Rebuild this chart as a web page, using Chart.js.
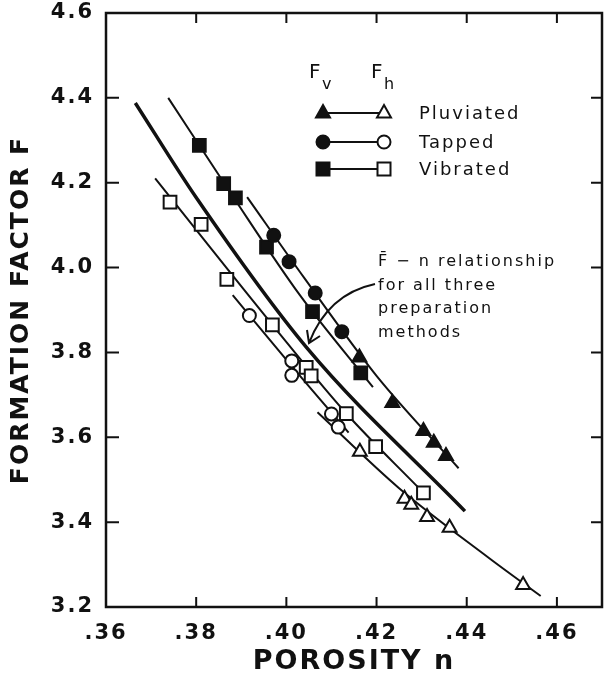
<!DOCTYPE html>
<html>
<head>
<meta charset="utf-8">
<script src="https://cdn.jsdelivr.net/npm/chart.js@4.4.1/dist/chart.umd.min.js"></script>
<style>
  html, body { margin: 0; padding: 0; background: #fff; }
  #wrap { width: 604px; height: 675px; }
</style>
</head>
<body>
<div id="wrap"><canvas id="myChart"></canvas></div>
<script>
// measured points, filled = F_v, open = F_h
const vPluvN = [0.4162, 0.4235, 0.4304, 0.4327, 0.4354];
const vPluvF = [3.788, 3.681, 3.615, 3.587, 3.556];
const vTapN = [0.3972, 0.4006, 0.4064, 0.4123];
const vTapF = [4.076, 4.014, 3.940, 3.849];
const vVibN = [0.3807, 0.3861, 0.3887, 0.3956, 0.4058, 0.4165];
const vVibF = [4.288, 4.198, 4.164, 4.048, 3.896, 3.752];

const hPluvN = [0.4163, 0.4262, 0.4277, 0.4312, 0.4362, 0.4525];
const hPluvF = [3.566, 3.455, 3.441, 3.412, 3.387, 3.252];
const hTapN = [0.3918, 0.4012, 0.4012, 0.4100, 0.4115];
const hTapF = [3.887, 3.780, 3.746, 3.655, 3.624];
const hVibN = [0.3742, 0.3811, 0.3868, 0.3969, 0.4044, 0.4055, 0.4133, 0.4198, 0.4304];
const hVibF = [4.154, 4.102, 3.972, 3.865, 3.765, 3.745, 3.656, 3.578, 3.469];

// fitted curves
const fitVibVN = [0.3738, 0.3880, 0.4030, 0.4192];
const fitVibVF = [4.400, 4.170, 3.935, 3.718];
const fitTapVN = [0.3913, 0.4040, 0.4200, 0.4382];
const fitTapVF = [4.166, 3.975, 3.745, 3.527];
const fitMeanN = [0.3665, 0.3800, 0.4046, 0.4396];
const fitMeanF = [4.388, 4.165, 3.810, 3.426];
const fitVibHN = [0.3709, 0.3969, 0.4133, 0.4296];
const fitVibHF = [4.210, 3.865, 3.656, 3.478];
const fitTapHN = [0.3881, 0.4010, 0.4138];
const fitTapHF = [3.935, 3.770, 3.611];
const fitPluvHN = [0.4069, 0.4250, 0.4450, 0.4564];
const fitPluvHF = [3.659, 3.480, 3.315, 3.226];

const legendNames = ['Pluviated', 'Tapped', 'Vibrated'];
const legendShapes = ['triangle', 'circle', 'rect'];
const noteLines = ['F\u0304 \u2212 n relationship', 'for all three', 'preparation', 'methods'];

const ink = '#111';

function pts(xs, ys) {
  return xs.map((x, i) => ({ x: x, y: ys[i] }));
}

function markers(xs, ys, shape, filled) {
  return {
    data: pts(xs, ys),
    showLine: false,
    pointStyle: shape,
    pointRadius: shape === 'rect' ? 9 : (shape === 'triangle' ? 8 : 6.5),
    pointBorderWidth: 2,
    pointBorderColor: ink,
    pointBackgroundColor: filled ? ink : '#fff',
    order: 0
  };
}

function curve(xs, ys, width) {
  return {
    data: pts(xs, ys),
    showLine: true,
    borderColor: ink,
    borderWidth: width,
    pointRadius: 0,
    cubicInterpolationMode: 'monotone',
    order: 1
  };
}

const datasets = [
  curve(fitVibVN, fitVibVF, 2),
  curve(fitTapVN, fitTapVF, 2),
  curve(fitMeanN, fitMeanF, 3.5),
  curve(fitVibHN, fitVibHF, 2),
  curve(fitTapHN, fitTapHF, 2),
  curve(fitPluvHN, fitPluvHF, 2),
  markers(vPluvN, vPluvF, 'triangle', true),
  markers(vTapN, vTapF, 'circle', true),
  markers(vVibN, vVibF, 'rect', true),
  markers(hPluvN, hPluvF, 'triangle', false),
  markers(hTapN, hTapF, 'circle', false),
  markers(hVibN, hVibF, 'rect', false)
];

function drawMark(ctx, shape, x, y, filled) {
  ctx.beginPath();
  if (shape === 'circle') {
    ctx.arc(x, y, 6.5, 0, Math.PI * 2);
  } else if (shape === 'rect') {
    ctx.rect(x - 6.5, y - 6.5, 13, 13);
  } else {
    ctx.moveTo(x, y - 8);
    ctx.lineTo(x + 7, y + 4.5);
    ctx.lineTo(x - 7, y + 4.5);
    ctx.closePath();
  }
  ctx.fillStyle = filled ? ink : '#fff';
  ctx.fill();
  ctx.lineWidth = 2;
  ctx.strokeStyle = ink;
  ctx.stroke();
}

const framePlugin = {
  id: 'frame',
  beforeDraw(chart) {
    chart.ctx.letterSpacing = '2px';
  },
  afterDraw(chart) {
    const { ctx, chartArea: a, scales } = chart;
    ctx.save();
    ctx.strokeStyle = ink;
    ctx.lineWidth = 2.5;
    ctx.strokeRect(a.left, a.top, a.right - a.left, a.bottom - a.top);
    ctx.lineWidth = 2;
    ctx.beginPath();
    scales.x.ticks.forEach(t => {
      const px = scales.x.getPixelForValue(t.value);
      if (Math.abs(px - a.left) < 2) return;
      ctx.moveTo(px, a.bottom); ctx.lineTo(px, a.bottom - 10);
      ctx.moveTo(px, a.top); ctx.lineTo(px, a.top + 10);
    });
    scales.y.ticks.forEach(t => {
      const py = scales.y.getPixelForValue(t.value);
      if (Math.abs(py - a.bottom) < 2 || Math.abs(py - a.top) < 2) return;
      ctx.moveTo(a.left, py); ctx.lineTo(a.left + 13, py);
      ctx.moveTo(a.right, py); ctx.lineTo(a.right - 11, py);
    });
    ctx.stroke();

    // legend
    ctx.fillStyle = ink;
    ctx.textBaseline = 'alphabetic';
    ctx.font = '20px "DejaVu Sans"';
    ctx.letterSpacing = '0px';
    ctx.fillText('F', 309, 78);
    ctx.fillText('F', 371, 78);
    ctx.font = '16px "DejaVu Sans"';
    ctx.fillText('v', 322, 89);
    ctx.fillText('h', 384, 89);
    ctx.letterSpacing = '2px';
    ctx.font = '18px "DejaVu Sans"';
    ctx.textBaseline = 'middle';
    const rows = [113, 142, 169];
    legendNames.forEach((name, i) => {
      const y = rows[i];
      ctx.beginPath();
      ctx.moveTo(323, y); ctx.lineTo(384, y);
      ctx.lineWidth = 2;
      ctx.stroke();
      drawMark(ctx, legendShapes[i], 323, y, true);
      drawMark(ctx, legendShapes[i], 384, y, false);
      ctx.fillStyle = ink;
      ctx.fillText(name, 419, y + 1);
    });

    // note and arrow
    ctx.font = '16px "DejaVu Sans"';
    noteLines.forEach((s, i) => {
      ctx.fillText(s, 378, 262 + i * 23.5);
    });
    ctx.beginPath();
    ctx.moveTo(375, 284);
    ctx.quadraticCurveTo(328, 294, 309, 343);
    ctx.moveTo(307, 330); ctx.lineTo(309, 343); ctx.lineTo(320, 336);
    ctx.lineWidth = 2;
    ctx.stroke();
    ctx.restore();
  }
};

const config = {
  type: 'scatter',
  data: { datasets: datasets },
  options: {
    responsive: true,
    maintainAspectRatio: false,
    animation: false,
    events: [],
    layout: { autoPadding: false, padding: { top: 13, right: 2, left: 0, bottom: 0 } },
    plugins: { legend: { display: false }, tooltip: { enabled: false } },
    scales: {
      x: {
        type: 'linear',
        min: 0.36,
        max: 0.47,
        grid: { display: false, drawTicks: false },
        border: { display: false },
        afterFit(scale) {
          scale.height = 68;
          scale.paddingLeft = 0;
          scale.paddingRight = 0;
        },
        ticks: {
          stepSize: 0.02,
          includeBounds: false,
          padding: 14,
          color: ink,
          font: { size: 21, weight: 'bold' },
          maxRotation: 0,
          callback: v => v.toFixed(2).replace(/^0/, '')
        },
        title: {
          display: true,
          text: 'POROSITY n',
          color: ink,
          font: { size: 27, weight: 'bold', lineHeight: 1 },
          padding: { top: 0, bottom: 0 }
        }
      },
      y: {
        type: 'linear',
        min: 3.2,
        max: 4.6,
        grid: { display: false, drawTicks: false },
        border: { display: false },
        afterFit(scale) {
          scale.width = 106;
          scale.paddingTop = 0;
          scale.paddingBottom = 0;
        },
        ticks: {
          stepSize: 0.2,
          padding: 12,
          color: ink,
          font: { size: 21, weight: 'bold' },
          callback: v => v.toFixed(1)
        },
        title: {
          display: true,
          text: 'FORMATION FACTOR F',
          color: ink,
          font: { size: 25, weight: 'bold' },
          padding: { top: 6, bottom: 0 }
        }
      }
    }
  },
  plugins: [framePlugin]
};

Chart.defaults.font.family = '"DejaVu Sans", sans-serif';

const canvasElement = document.getElementById('myChart');
const myChart = new Chart(canvasElement, config);
</script>
</body>
</html>
